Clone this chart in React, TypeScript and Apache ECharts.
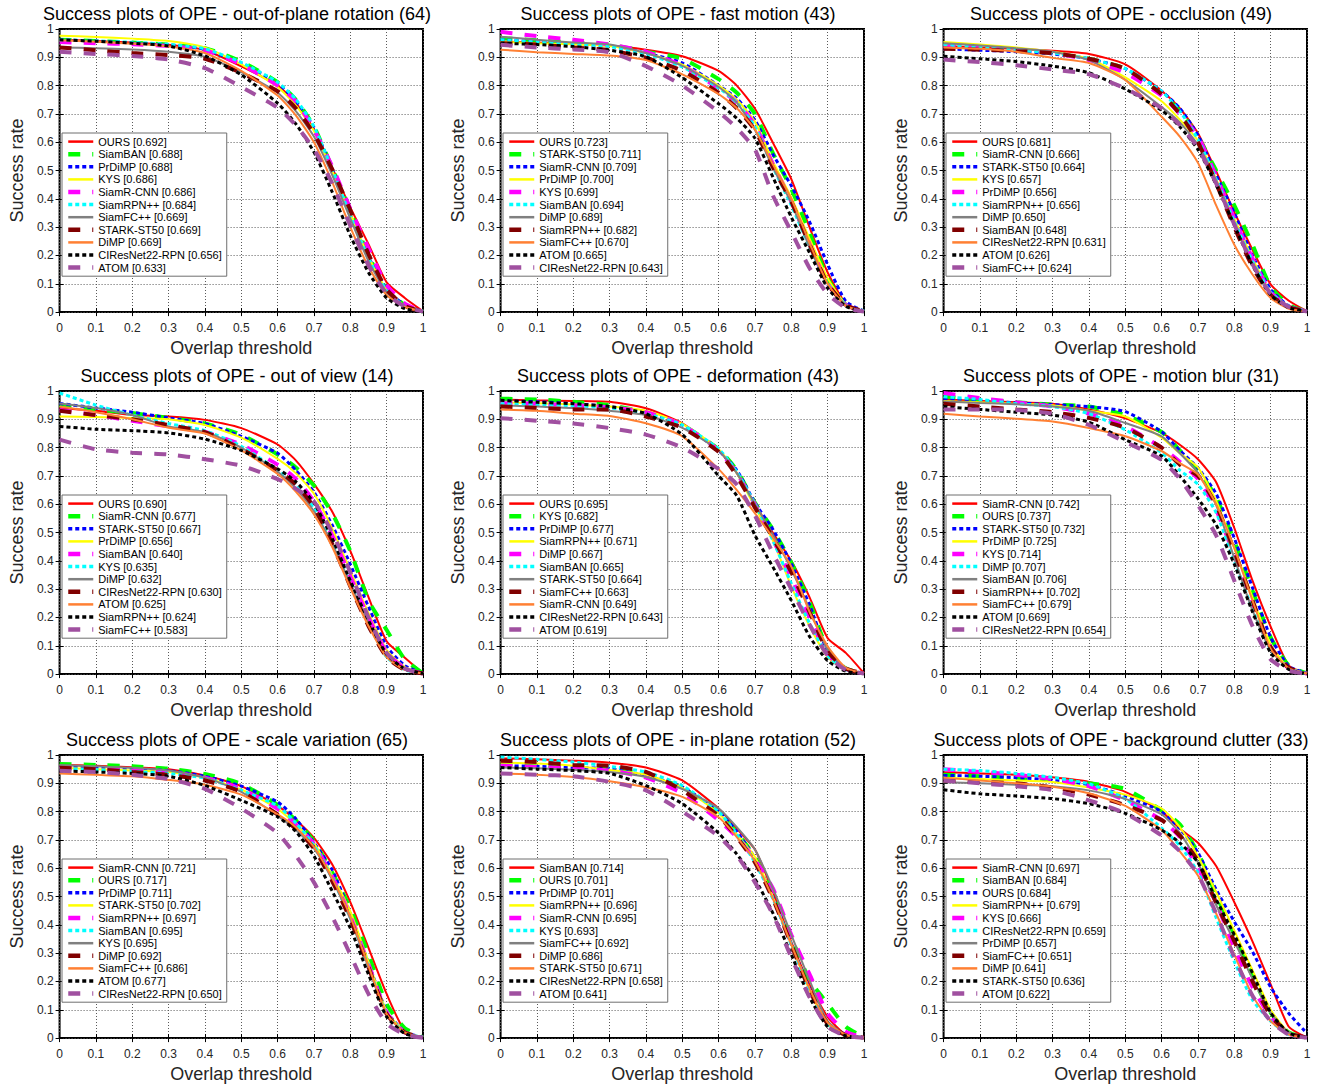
import React, { useEffect, useRef } from "react";
import * as echarts from "echarts";

// Overlap thresholds at which success rates were read
const THRESHOLDS = [0, 0.1, 0.2, 0.3, 0.4, 0.5, 0.6, 0.65, 0.7, 0.75, 0.8, 0.85, 0.9, 0.95, 1];
const AXIS_TICKS = [0, 0.1, 0.2, 0.3, 0.4, 0.5, 0.6, 0.7, 0.8, 0.9, 1];

// Line style by rank (1st .. 11th)
const RANK_COLORS = ["#FF0000", "#00FF00", "#0000FF", "#FFFF00", "#FF00FF", "#00FFFF", "#808080", "#800000", "#FF8033", "#000000", "#A050A0"];
const RANK_TYPES = ["solid", "dashed", "dotted", "solid", "dashed", "dotted", "solid", "dashed", "solid", "dotted", "dashed"];

// 1. out-of-plane rotation
const TITLE_1 = "Success plots of OPE - out-of-plane rotation (64)";
const TRACKERS_1 = ["OURS", "SiamBAN", "PrDiMP", "KYS", "SiamR-CNN", "SiamRPN++", "SiamFC++", "STARK-ST50", "DiMP", "CIResNet22-RPN", "ATOM"];
const AUC_1 = ["0.692", "0.688", "0.688", "0.686", "0.686", "0.684", "0.669", "0.669", "0.669", "0.656", "0.633"];
const RATES_1 = [
  [0.962, 0.958, 0.952, 0.944, 0.925, 0.868, 0.80, 0.74, 0.645, 0.51, 0.37, 0.24, 0.105, 0.05, 0.003],
  [0.962, 0.958, 0.952, 0.945, 0.932, 0.885, 0.812, 0.75, 0.655, 0.51, 0.355, 0.20, 0.08, 0.025, 0.002],
  [0.962, 0.957, 0.951, 0.944, 0.928, 0.878, 0.808, 0.745, 0.652, 0.505, 0.345, 0.195, 0.08, 0.025, 0.002],
  [0.976, 0.972, 0.966, 0.958, 0.935, 0.875, 0.795, 0.73, 0.64, 0.50, 0.35, 0.195, 0.078, 0.022, 0.002],
  [0.954, 0.95, 0.946, 0.94, 0.925, 0.875, 0.80, 0.745, 0.645, 0.515, 0.365, 0.225, 0.095, 0.03, 0.002],
  [0.962, 0.958, 0.953, 0.946, 0.93, 0.882, 0.812, 0.752, 0.655, 0.505, 0.34, 0.19, 0.075, 0.02, 0.002],
  [0.935, 0.932, 0.928, 0.92, 0.902, 0.848, 0.775, 0.71, 0.62, 0.485, 0.33, 0.18, 0.07, 0.02, 0.002],
  [0.935, 0.925, 0.915, 0.908, 0.895, 0.845, 0.78, 0.72, 0.63, 0.505, 0.36, 0.205, 0.08, 0.022, 0.002],
  [0.96, 0.955, 0.948, 0.938, 0.915, 0.852, 0.765, 0.695, 0.60, 0.46, 0.30, 0.16, 0.06, 0.018, 0.002],
  [0.962, 0.957, 0.95, 0.94, 0.905, 0.838, 0.738, 0.665, 0.565, 0.425, 0.27, 0.14, 0.05, 0.012, 0.001],
  [0.92, 0.912, 0.905, 0.892, 0.862, 0.795, 0.722, 0.66, 0.575, 0.455, 0.305, 0.165, 0.065, 0.02, 0.002],
];

// 2. fast motion
const TITLE_2 = "Success plots of OPE - fast motion (43)";
const TRACKERS_2 = ["OURS", "STARK-ST50", "SiamR-CNN", "PrDiMP", "KYS", "SiamBAN", "DiMP", "SiamRPN++", "SiamFC++", "ATOM", "CIResNet22-RPN"];
const AUC_2 = ["0.723", "0.711", "0.709", "0.700", "0.699", "0.694", "0.689", "0.682", "0.670", "0.665", "0.643"];
const RATES_2 = [
  [0.956, 0.952, 0.947, 0.942, 0.927, 0.904, 0.852, 0.80, 0.718, 0.597, 0.47, 0.30, 0.14, 0.03, 0.003],
  [0.968, 0.96, 0.952, 0.945, 0.92, 0.895, 0.823, 0.775, 0.70, 0.56, 0.435, 0.28, 0.12, 0.025, 0.003],
  [0.962, 0.955, 0.948, 0.94, 0.915, 0.88, 0.80, 0.755, 0.678, 0.556, 0.446, 0.32, 0.168, 0.038, 0.003],
  [0.955, 0.95, 0.946, 0.94, 0.915, 0.874, 0.80, 0.75, 0.672, 0.53, 0.405, 0.26, 0.12, 0.028, 0.003],
  [0.99, 0.975, 0.962, 0.945, 0.92, 0.87, 0.79, 0.74, 0.66, 0.52, 0.39, 0.24, 0.10, 0.025, 0.003],
  [0.962, 0.955, 0.948, 0.938, 0.912, 0.866, 0.792, 0.74, 0.655, 0.51, 0.377, 0.23, 0.10, 0.025, 0.003],
  [0.973, 0.962, 0.952, 0.945, 0.915, 0.87, 0.795, 0.74, 0.643, 0.51, 0.385, 0.23, 0.10, 0.025, 0.003],
  [0.95, 0.945, 0.935, 0.925, 0.898, 0.852, 0.775, 0.72, 0.643, 0.51, 0.39, 0.24, 0.10, 0.025, 0.003],
  [0.927, 0.918, 0.912, 0.906, 0.89, 0.84, 0.77, 0.72, 0.645, 0.52, 0.40, 0.245, 0.10, 0.022, 0.003],
  [0.95, 0.945, 0.938, 0.925, 0.902, 0.828, 0.736, 0.685, 0.614, 0.475, 0.335, 0.21, 0.085, 0.02, 0.002],
  [0.944, 0.935, 0.928, 0.918, 0.869, 0.80, 0.707, 0.65, 0.574, 0.41, 0.284, 0.156, 0.064, 0.015, 0.002],
];

// 3. occlusion
const TITLE_3 = "Success plots of OPE - occlusion (49)";
const TRACKERS_3 = ["OURS", "SiamR-CNN", "STARK-ST50", "KYS", "PrDiMP", "SiamRPN++", "DiMP", "SiamBAN", "CIResNet22-RPN", "ATOM", "SiamFC++"];
const AUC_3 = ["0.681", "0.666", "0.664", "0.657", "0.656", "0.656", "0.650", "0.648", "0.631", "0.626", "0.624"];
const RATES_3 = [
  [0.94, 0.935, 0.93, 0.923, 0.912, 0.875, 0.782, 0.72, 0.632, 0.498, 0.353, 0.22, 0.098, 0.04, 0.003],
  [0.945, 0.935, 0.925, 0.915, 0.895, 0.86, 0.77, 0.71, 0.62, 0.50, 0.377, 0.238, 0.09, 0.025, 0.002],
  [0.93, 0.925, 0.92, 0.912, 0.895, 0.86, 0.78, 0.72, 0.625, 0.485, 0.35, 0.20, 0.08, 0.022, 0.002],
  [0.954, 0.945, 0.935, 0.92, 0.895, 0.829, 0.745, 0.68, 0.605, 0.47, 0.33, 0.19, 0.07, 0.02, 0.002],
  [0.94, 0.935, 0.925, 0.915, 0.89, 0.845, 0.765, 0.70, 0.62, 0.48, 0.33, 0.19, 0.07, 0.02, 0.002],
  [0.945, 0.935, 0.925, 0.915, 0.895, 0.86, 0.78, 0.71, 0.61, 0.47, 0.32, 0.18, 0.07, 0.02, 0.002],
  [0.95, 0.942, 0.932, 0.92, 0.89, 0.82, 0.724, 0.67, 0.59, 0.465, 0.31, 0.17, 0.065, 0.018, 0.002],
  [0.93, 0.927, 0.922, 0.915, 0.895, 0.86, 0.77, 0.70, 0.60, 0.455, 0.30, 0.16, 0.06, 0.018, 0.002],
  [0.935, 0.93, 0.92, 0.898, 0.88, 0.82, 0.69, 0.62, 0.527, 0.377, 0.238, 0.133, 0.05, 0.012, 0.002],
  [0.904, 0.895, 0.885, 0.869, 0.845, 0.788, 0.713, 0.655, 0.574, 0.45, 0.307, 0.165, 0.06, 0.015, 0.002],
  [0.892, 0.883, 0.872, 0.857, 0.84, 0.79, 0.72, 0.66, 0.58, 0.455, 0.31, 0.17, 0.065, 0.018, 0.002],
];

// 4. out of view
const TITLE_4 = "Success plots of OPE - out of view (14)";
const TRACKERS_4 = ["OURS", "SiamR-CNN", "STARK-ST50", "PrDiMP", "SiamBAN", "KYS", "DiMP", "CIResNet22-RPN", "ATOM", "SiamRPN++", "SiamFC++"];
const AUC_4 = ["0.690", "0.677", "0.667", "0.656", "0.640", "0.635", "0.632", "0.630", "0.625", "0.624", "0.583"];
const RATES_4 = [
  [0.94, 0.93, 0.915, 0.91, 0.898, 0.869, 0.811, 0.755, 0.672, 0.574, 0.435, 0.272, 0.116, 0.058, 0.003],
  [0.95, 0.935, 0.922, 0.905, 0.885, 0.845, 0.776, 0.73, 0.666, 0.568, 0.435, 0.26, 0.156, 0.052, 0.003],
  [0.956, 0.94, 0.925, 0.905, 0.885, 0.84, 0.78, 0.72, 0.643, 0.527, 0.388, 0.238, 0.098, 0.03, 0.002],
  [0.91, 0.908, 0.905, 0.90, 0.88, 0.835, 0.76, 0.71, 0.637, 0.515, 0.365, 0.215, 0.085, 0.025, 0.002],
  [0.933, 0.915, 0.895, 0.875, 0.855, 0.81, 0.74, 0.69, 0.61, 0.49, 0.345, 0.20, 0.075, 0.02, 0.002],
  [0.993, 0.95, 0.915, 0.885, 0.86, 0.805, 0.72, 0.665, 0.585, 0.465, 0.325, 0.18, 0.06, 0.015, 0.002],
  [0.956, 0.94, 0.915, 0.875, 0.855, 0.80, 0.715, 0.655, 0.575, 0.46, 0.32, 0.18, 0.065, 0.018, 0.002],
  [0.93, 0.915, 0.90, 0.88, 0.855, 0.795, 0.72, 0.67, 0.59, 0.46, 0.31, 0.17, 0.06, 0.015, 0.002],
  [0.945, 0.925, 0.90, 0.87, 0.85, 0.79, 0.707, 0.645, 0.564, 0.45, 0.305, 0.17, 0.06, 0.015, 0.002],
  [0.875, 0.865, 0.86, 0.852, 0.83, 0.79, 0.725, 0.68, 0.605, 0.48, 0.33, 0.19, 0.07, 0.018, 0.002],
  [0.828, 0.794, 0.782, 0.776, 0.759, 0.736, 0.689, 0.655, 0.61, 0.50, 0.36, 0.20, 0.075, 0.02, 0.002],
];

// 5. deformation
const TITLE_5 = "Success plots of OPE - deformation (43)";
const TRACKERS_5 = ["OURS", "KYS", "PrDiMP", "SiamRPN++", "DiMP", "SiamBAN", "STARK-ST50", "SiamFC++", "SiamR-CNN", "CIResNet22-RPN", "ATOM"];
const AUC_5 = ["0.695", "0.682", "0.677", "0.671", "0.667", "0.665", "0.664", "0.663", "0.649", "0.643", "0.619"];
const RATES_5 = [
  [0.97, 0.967, 0.965, 0.962, 0.939, 0.886, 0.79, 0.71, 0.60, 0.497, 0.40, 0.272, 0.127, 0.075, 0.003],
  [0.973, 0.97, 0.962, 0.95, 0.925, 0.88, 0.794, 0.72, 0.605, 0.51, 0.394, 0.255, 0.087, 0.02, 0.002],
  [0.965, 0.962, 0.955, 0.945, 0.925, 0.88, 0.79, 0.72, 0.605, 0.51, 0.39, 0.245, 0.08, 0.018, 0.002],
  [0.96, 0.957, 0.952, 0.945, 0.93, 0.884, 0.794, 0.71, 0.59, 0.47, 0.31, 0.17, 0.06, 0.015, 0.002],
  [0.957, 0.955, 0.95, 0.942, 0.925, 0.88, 0.79, 0.71, 0.60, 0.475, 0.34, 0.20, 0.07, 0.018, 0.002],
  [0.955, 0.952, 0.948, 0.94, 0.92, 0.88, 0.795, 0.715, 0.60, 0.47, 0.32, 0.18, 0.065, 0.016, 0.002],
  [0.95, 0.945, 0.94, 0.93, 0.915, 0.87, 0.79, 0.71, 0.60, 0.49, 0.37, 0.23, 0.085, 0.02, 0.002],
  [0.945, 0.94, 0.935, 0.935, 0.91, 0.87, 0.785, 0.70, 0.588, 0.48, 0.36, 0.22, 0.08, 0.02, 0.002],
  [0.935, 0.93, 0.92, 0.912, 0.886, 0.84, 0.724, 0.65, 0.568, 0.48, 0.38, 0.22, 0.098, 0.022, 0.002],
  [0.967, 0.96, 0.955, 0.945, 0.92, 0.846, 0.70, 0.63, 0.49, 0.377, 0.26, 0.133, 0.047, 0.01, 0.001],
  [0.904, 0.895, 0.885, 0.869, 0.846, 0.80, 0.724, 0.67, 0.56, 0.425, 0.30, 0.175, 0.065, 0.015, 0.002],
];

// 6. motion blur
const TITLE_6 = "Success plots of OPE - motion blur (31)";
const TRACKERS_6 = ["SiamR-CNN", "OURS", "STARK-ST50", "PrDiMP", "KYS", "DiMP", "SiamBAN", "SiamRPN++", "SiamFC++", "ATOM", "CIResNet22-RPN"];
const AUC_6 = ["0.742", "0.737", "0.732", "0.725", "0.714", "0.707", "0.706", "0.702", "0.679", "0.669", "0.654"];
const RATES_6 = [
  [0.97, 0.965, 0.96, 0.955, 0.935, 0.904, 0.852, 0.81, 0.759, 0.678, 0.516, 0.33, 0.168, 0.03, 0.003],
  [0.98, 0.97, 0.96, 0.952, 0.945, 0.915, 0.855, 0.79, 0.72, 0.625, 0.47, 0.295, 0.13, 0.03, 0.003],
  [0.97, 0.965, 0.958, 0.952, 0.945, 0.927, 0.856, 0.79, 0.728, 0.637, 0.48, 0.305, 0.13, 0.028, 0.003],
  [0.965, 0.96, 0.955, 0.95, 0.93, 0.91, 0.835, 0.78, 0.73, 0.612, 0.445, 0.27, 0.105, 0.022, 0.002],
  [0.993, 0.975, 0.96, 0.945, 0.92, 0.875, 0.80, 0.75, 0.69, 0.58, 0.42, 0.25, 0.095, 0.02, 0.002],
  [0.98, 0.97, 0.955, 0.945, 0.92, 0.863, 0.782, 0.72, 0.67, 0.57, 0.40, 0.23, 0.085, 0.02, 0.002],
  [0.963, 0.958, 0.953, 0.945, 0.93, 0.887, 0.84, 0.78, 0.71, 0.597, 0.41, 0.225, 0.085, 0.02, 0.002],
  [0.955, 0.945, 0.935, 0.925, 0.905, 0.87, 0.80, 0.74, 0.70, 0.597, 0.435, 0.26, 0.095, 0.022, 0.002],
  [0.92, 0.91, 0.902, 0.892, 0.869, 0.84, 0.788, 0.745, 0.705, 0.60, 0.445, 0.26, 0.09, 0.02, 0.002],
  [0.945, 0.935, 0.925, 0.915, 0.89, 0.828, 0.77, 0.70, 0.62, 0.527, 0.388, 0.22, 0.075, 0.016, 0.002],
  [0.935, 0.935, 0.933, 0.92, 0.88, 0.82, 0.757, 0.69, 0.597, 0.49, 0.33, 0.17, 0.052, 0.012, 0.001],
];

// 7. scale variation
const TITLE_7 = "Success plots of OPE - scale variation (65)";
const TRACKERS_7 = ["SiamR-CNN", "OURS", "PrDiMP", "STARK-ST50", "SiamRPN++", "SiamBAN", "KYS", "DiMP", "SiamFC++", "ATOM", "CIResNet22-RPN"];
const AUC_7 = ["0.721", "0.717", "0.711", "0.702", "0.697", "0.695", "0.695", "0.692", "0.686", "0.677", "0.650"];
const RATES_7 = [
  [0.965, 0.962, 0.957, 0.95, 0.928, 0.89, 0.82, 0.77, 0.707, 0.614, 0.48, 0.319, 0.156, 0.025, 0.002],
  [0.968, 0.965, 0.96, 0.952, 0.933, 0.898, 0.824, 0.77, 0.695, 0.585, 0.458, 0.295, 0.12, 0.035, 0.003],
  [0.958, 0.955, 0.95, 0.945, 0.925, 0.89, 0.834, 0.775, 0.69, 0.595, 0.44, 0.265, 0.095, 0.022, 0.002],
  [0.955, 0.95, 0.945, 0.94, 0.92, 0.878, 0.81, 0.755, 0.69, 0.575, 0.448, 0.27, 0.095, 0.022, 0.002],
  [0.955, 0.95, 0.945, 0.94, 0.92, 0.88, 0.81, 0.755, 0.685, 0.57, 0.43, 0.26, 0.09, 0.02, 0.002],
  [0.952, 0.948, 0.942, 0.935, 0.918, 0.875, 0.82, 0.76, 0.68, 0.565, 0.425, 0.255, 0.085, 0.02, 0.002],
  [0.965, 0.96, 0.955, 0.945, 0.92, 0.87, 0.785, 0.735, 0.67, 0.56, 0.42, 0.25, 0.085, 0.02, 0.002],
  [0.955, 0.95, 0.94, 0.93, 0.91, 0.87, 0.79, 0.74, 0.67, 0.555, 0.42, 0.25, 0.085, 0.02, 0.002],
  [0.935, 0.93, 0.925, 0.912, 0.895, 0.86, 0.79, 0.745, 0.675, 0.565, 0.43, 0.255, 0.085, 0.02, 0.002],
  [0.944, 0.94, 0.935, 0.925, 0.892, 0.84, 0.782, 0.73, 0.643, 0.52, 0.388, 0.225, 0.075, 0.016, 0.002],
  [0.944, 0.94, 0.93, 0.915, 0.88, 0.811, 0.724, 0.645, 0.55, 0.43, 0.295, 0.156, 0.052, 0.012, 0.001],
];

// 8. in-plane rotation
const TITLE_8 = "Success plots of OPE - in-plane rotation (52)";
const TRACKERS_8 = ["SiamBAN", "OURS", "PrDiMP", "SiamRPN++", "SiamR-CNN", "KYS", "SiamFC++", "DiMP", "STARK-ST50", "CIResNet22-RPN", "ATOM"];
const AUC_8 = ["0.714", "0.701", "0.701", "0.696", "0.695", "0.693", "0.692", "0.686", "0.671", "0.658", "0.641"];
const RATES_8 = [
  [0.988, 0.985, 0.98, 0.973, 0.956, 0.91, 0.811, 0.74, 0.666, 0.515, 0.34, 0.19, 0.075, 0.012, 0.002],
  [0.968, 0.965, 0.958, 0.95, 0.933, 0.884, 0.794, 0.725, 0.64, 0.505, 0.355, 0.205, 0.122, 0.04, 0.003],
  [0.962, 0.96, 0.955, 0.952, 0.927, 0.887, 0.80, 0.73, 0.635, 0.495, 0.33, 0.175, 0.055, 0.012, 0.002],
  [0.973, 0.97, 0.962, 0.947, 0.93, 0.884, 0.794, 0.72, 0.64, 0.495, 0.33, 0.17, 0.05, 0.012, 0.002],
  [0.962, 0.958, 0.952, 0.945, 0.92, 0.865, 0.77, 0.71, 0.63, 0.527, 0.365, 0.226, 0.087, 0.023, 0.002],
  [0.993, 0.985, 0.975, 0.96, 0.94, 0.892, 0.80, 0.72, 0.62, 0.49, 0.33, 0.17, 0.05, 0.01, 0.002],
  [0.956, 0.953, 0.948, 0.94, 0.922, 0.88, 0.811, 0.745, 0.666, 0.527, 0.365, 0.205, 0.06, 0.012, 0.002],
  [0.98, 0.975, 0.965, 0.962, 0.94, 0.875, 0.785, 0.71, 0.62, 0.49, 0.33, 0.17, 0.05, 0.01, 0.002],
  [0.935, 0.93, 0.922, 0.907, 0.886, 0.852, 0.78, 0.71, 0.625, 0.49, 0.33, 0.175, 0.055, 0.012, 0.002],
  [0.956, 0.95, 0.945, 0.935, 0.892, 0.828, 0.724, 0.65, 0.562, 0.44, 0.295, 0.145, 0.04, 0.008, 0.001],
  [0.935, 0.93, 0.925, 0.905, 0.875, 0.80, 0.713, 0.645, 0.55, 0.435, 0.285, 0.145, 0.04, 0.008, 0.001],
];

// 9. background clutter
const TITLE_9 = "Success plots of OPE - background clutter (33)";
const TRACKERS_9 = ["SiamR-CNN", "SiamBAN", "OURS", "SiamRPN++", "KYS", "CIResNet22-RPN", "PrDiMP", "SiamFC++", "DiMP", "STARK-ST50", "ATOM"];
const AUC_9 = ["0.697", "0.684", "0.684", "0.679", "0.666", "0.659", "0.657", "0.651", "0.641", "0.636", "0.622"];
const RATES_9 = [
  [0.939, 0.935, 0.93, 0.921, 0.905, 0.87, 0.80, 0.74, 0.69, 0.608, 0.48, 0.342, 0.19, 0.04, 0.002],
  [0.93, 0.925, 0.92, 0.912, 0.90, 0.88, 0.805, 0.755, 0.655, 0.505, 0.365, 0.22, 0.09, 0.02, 0.002],
  [0.928, 0.925, 0.92, 0.912, 0.895, 0.855, 0.80, 0.74, 0.655, 0.525, 0.411, 0.305, 0.18, 0.087, 0.017],
  [0.92, 0.915, 0.91, 0.905, 0.885, 0.86, 0.811, 0.745, 0.642, 0.515, 0.38, 0.24, 0.10, 0.02, 0.002],
  [0.95, 0.94, 0.93, 0.915, 0.89, 0.84, 0.77, 0.71, 0.60, 0.478, 0.318, 0.18, 0.075, 0.015, 0.002],
  [0.95, 0.945, 0.935, 0.921, 0.898, 0.845, 0.742, 0.68, 0.585, 0.425, 0.27, 0.135, 0.06, 0.012, 0.001],
  [0.904, 0.90, 0.895, 0.89, 0.875, 0.845, 0.79, 0.725, 0.62, 0.47, 0.342, 0.21, 0.09, 0.02, 0.002],
  [0.91, 0.905, 0.90, 0.885, 0.86, 0.823, 0.77, 0.715, 0.625, 0.478, 0.342, 0.20, 0.08, 0.016, 0.002],
  [0.92, 0.91, 0.90, 0.888, 0.865, 0.82, 0.735, 0.66, 0.574, 0.44, 0.295, 0.15, 0.06, 0.012, 0.002],
  [0.877, 0.863, 0.855, 0.846, 0.828, 0.794, 0.735, 0.69, 0.62, 0.49, 0.365, 0.23, 0.09, 0.018, 0.002],
  [0.91, 0.90, 0.89, 0.876, 0.84, 0.794, 0.716, 0.66, 0.578, 0.44, 0.285, 0.15, 0.06, 0.012, 0.001],
];

const PANELS = [
  { title: TITLE_1, trackers: TRACKERS_1, auc: AUC_1, rates: RATES_1 },
  { title: TITLE_2, trackers: TRACKERS_2, auc: AUC_2, rates: RATES_2 },
  { title: TITLE_3, trackers: TRACKERS_3, auc: AUC_3, rates: RATES_3 },
  { title: TITLE_4, trackers: TRACKERS_4, auc: AUC_4, rates: RATES_4 },
  { title: TITLE_5, trackers: TRACKERS_5, auc: AUC_5, rates: RATES_5 },
  { title: TITLE_6, trackers: TRACKERS_6, auc: AUC_6, rates: RATES_6 },
  { title: TITLE_7, trackers: TRACKERS_7, auc: AUC_7, rates: RATES_7 },
  { title: TITLE_8, trackers: TRACKERS_8, auc: AUC_8, rates: RATES_8 },
  { title: TITLE_9, trackers: TRACKERS_9, auc: AUC_9, rates: RATES_9 },
];

// Layout (page pixels)
const PLOT_LEFTS = [51, 492, 935];
const PLOT_TOPS = [29, 391, 755];
const GRID_LEFT = 51;
const GRID_TOP = 29;
const GRID_W = 372;
const GRID_H = 288;
const CELL_W = 437;
const CELL_H = 362;

const FONT = 'Arial, "Liberation Sans", Helvetica, sans-serif';
const AXIS_COLOR = "#262626";

const LINE_WIDTH: Record<string, number> = { solid: 2, dashed: 4, dotted: 3 };
const LINE_DASH: Record<string, any> = { solid: "solid", dashed: [12, 12], dotted: [4, 3] };

function tickLabel(v: number) {
  const t = AXIS_TICKS.find((a) => Math.abs(a - v) < 1e-6);
  return String(t === undefined ? v : t);
}

function buildOption(p: any) {
  const series = p.trackers.map((t: string, i: number) => {
    const kind = RANK_TYPES[i];
    return {
      type: "line",
      name: `${t} [${p.auc[i]}]`,
      data: THRESHOLDS.map((x, k) => [x, p.rates[i][k]]),
      symbol: "none",
      showSymbol: false,
      smooth: 0.2,
      silent: true,
      lineStyle: { color: RANK_COLORS[i], width: LINE_WIDTH[kind], type: LINE_DASH[kind], cap: "butt" },
      itemStyle: { color: RANK_COLORS[i] },
    };
  });
  const legendData = series.map((s: any, i: number) => ({
    name: s.name,
    itemStyle: { opacity: 0, borderWidth: 0 },
    lineStyle: { width: LINE_WIDTH[RANK_TYPES[i]] + 0.5, opacity: 1 },
  }));
  const tickAxis = {
    min: 0,
    max: 1,
    interval: 0.1,
    axisLine: { show: false },
    axisTick: { show: true, inside: true, length: 4, lineStyle: { color: "#000", width: 1 } },
    splitLine: { show: false },
  };
  return {
    animation: false,
    textStyle: { fontFamily: FONT },
    title: {
      text: p.title,
      left: GRID_LEFT + GRID_W / 2,
      top: 5,
      textAlign: "center",
      padding: 0,
      textStyle: { fontSize: 18, lineHeight: 18, fontWeight: "normal", color: "#000", fontFamily: FONT },
    },
    grid: {
      left: GRID_LEFT,
      top: GRID_TOP,
      width: GRID_W,
      height: GRID_H,
      show: true,
      borderColor: "#000",
      borderWidth: 2,
      backgroundColor: "#fff",
    },
    legend: {
      orient: "vertical",
      left: GRID_LEFT + 11,
      top: GRID_TOP + 104,
      padding: [3, 5, 3, 4],
      itemWidth: 25,
      itemHeight: 14,
      itemGap: 1.4,
      selectedMode: false,
      backgroundColor: "#fff",
      borderColor: "#6e6e6e",
      borderWidth: 1,
      textStyle: { fontSize: 11, color: "#000", fontFamily: FONT },
      data: legendData,
    },
    xAxis: [
      {
        type: "value",
        ...tickAxis,
        name: "Overlap threshold",
        nameLocation: "middle",
        nameGap: 26,
        nameTextStyle: { fontSize: 18, color: AXIS_COLOR, fontFamily: FONT },
        axisLabel: { margin: 10, fontSize: 12, color: AXIS_COLOR, formatter: tickLabel },
        splitLine: { show: true, lineStyle: { color: "#5a5a5a", width: 1, type: [1, 2] } },
      },
      { type: "value", position: "top", ...tickAxis, axisLabel: { show: false } },
    ],
    yAxis: [
      {
        type: "value",
        ...tickAxis,
        name: "Success rate",
        nameLocation: "middle",
        nameGap: 24,
        nameTextStyle: { fontSize: 18, color: AXIS_COLOR, fontFamily: FONT },
        axisLabel: { margin: 6, fontSize: 12, color: AXIS_COLOR, formatter: tickLabel },
        splitLine: { show: true, lineStyle: { color: "#5a5a5a", width: 1, type: [1, 2] } },
      },
      { type: "value", position: "right", ...tickAxis, axisLabel: { show: false } },
    ],
    series,
  };
}

function Panel({ idx }: { idx: number }) {
  const ref = useRef<HTMLDivElement>(null);
  useEffect(() => {
    if (!ref.current) return;
    const chart = echarts.init(ref.current, undefined, { renderer: "svg" });
    chart.setOption(buildOption(PANELS[idx]) as any);
    return () => chart.dispose();
  }, [idx]);
  const col = idx % 3;
  const row = Math.floor(idx / 3);
  return (
    <div
      ref={ref}
      style={{
        position: "absolute",
        left: PLOT_LEFTS[col] - GRID_LEFT,
        top: PLOT_TOPS[row] - GRID_TOP,
        width: CELL_W,
        height: CELL_H,
      }}
    />
  );
}

export default function App() {
  return (
    <div
      style={{
        position: "absolute",
        left: 0,
        top: 0,
        width: 1322,
        height: 1089,
        overflow: "hidden",
        background: "#fff",
      }}
    >
      {PANELS.map((_, i) => (
        <Panel key={i} idx={i} />
      ))}
    </div>
  );
}
